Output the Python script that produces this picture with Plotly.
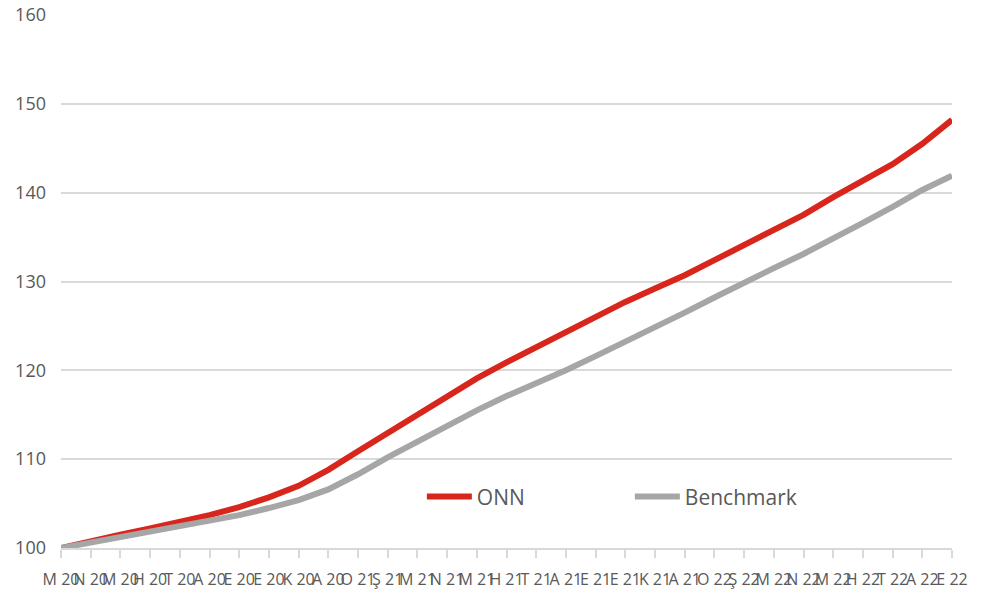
import plotly.graph_objects as go

tick_labels = ["M 20", "N 20", "M 20", "H 20", "T 20", "A 20", "E 20", "E 20", "K 20", "A 20",
               "O 21", "Ş 21", "M 21", "N 21", "M 21", "H 21", "T 21", "A 21", "E 21", "E 21",
               "K 21", "A 21", "O 22", "Ş 22", "M 22", "N 22", "M 22", "H 22", "T 22", "A 22", "E 22"]
months = list(range(len(tick_labels)))

onn = [100.0, 100.8, 101.5, 102.2, 102.9, 103.7, 104.6, 105.7, 107.0, 108.8,
       110.9, 113.0, 115.1, 117.1, 119.1, 120.9, 122.6, 124.4, 126.1, 127.7,
       129.2, 130.7, 132.4, 134.1, 135.8, 137.5, 139.5, 141.3, 143.2, 145.5, 148.2]
benchmark = [100.0, 100.6, 101.2, 101.8, 102.4, 103.0, 103.7, 104.5, 105.4, 106.6,
             108.3, 110.2, 112.0, 113.8, 115.5, 117.1, 118.5, 120.0, 121.6, 123.2,
             124.9, 126.5, 128.2, 129.9, 131.5, 133.1, 134.8, 136.6, 138.4, 140.3, 141.9]

font_family = "Open Sans"
text_color = "#595959"

fig = go.Figure()
fig.add_trace(go.Scatter(x=months, y=onn, mode="lines", name="ONN",
                         line=dict(color="#d9261c", width=6)))
fig.add_trace(go.Scatter(x=months, y=benchmark, mode="lines", name="Benchmark",
                         line=dict(color="#a6a6a6", width=6)))

fig.update_layout(
    width=972, height=590,
    margin=dict(l=53, r=28, t=7, b=50),
    paper_bgcolor="white", plot_bgcolor="white",
    font=dict(family=font_family, size=17, color=text_color),
    showlegend=True,
    legend=dict(orientation="h", x=0.405, y=0.096, xanchor="left", yanchor="middle",
                entrywidth=148, entrywidthmode="pixels", itemwidth=45,
                font=dict(family=font_family, size=21, color=text_color),
                bgcolor="rgba(0,0,0,0)"),
    xaxis=dict(range=[0, 30], tickmode="array", tickvals=months, ticktext=tick_labels,
               automargin=False,
               showgrid=False, zeroline=False,
               showline=True, linecolor="#d9d9d9", linewidth=2,
               ticks="outside", ticklen=8, tickcolor="#d9d9d9", tickwidth=2,
               ticklabelstandoff=8,
               tickangle=0, tickfont=dict(size=16, color=text_color)),
    yaxis=dict(range=[100, 160], dtick=10, tick0=100,
               automargin=False,
               showgrid=True, gridcolor="#d9d9d9", gridwidth=2,
               zeroline=False, showline=False, ticks="",
               ticklabeloverflow="allow", ticklabelstandoff=14,
               tickfont=dict(size=18, color=text_color)),
)

fig.write_html("out.html")
